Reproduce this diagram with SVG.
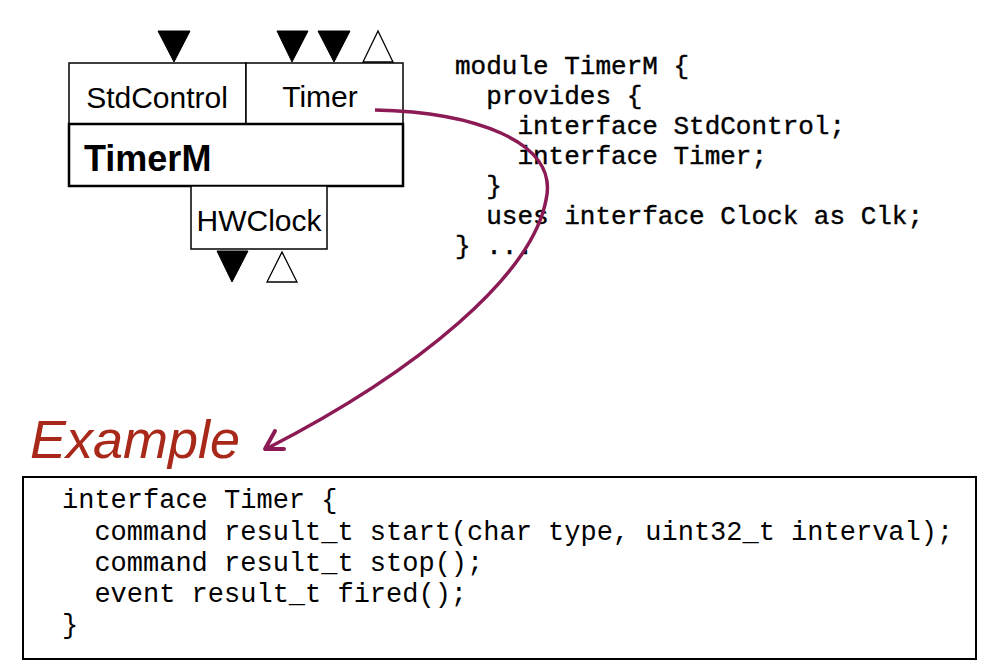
<svg xmlns="http://www.w3.org/2000/svg" width="986" height="666" viewBox="0 0 986 666">
<defs>
<style>
.box{fill:#fff;stroke:#000;stroke-width:1.5}
.thick{fill:none;stroke:#000;stroke-width:2.5}
.lbl{font-family:"Liberation Sans",Arial,sans-serif;font-size:30px;fill:#000}
.big{font-family:"Liberation Sans",Arial,sans-serif;font-size:36px;font-weight:bold;fill:#000}
.code{font-family:"Liberation Mono","Courier New",monospace;font-size:26px;fill:#000;stroke:#000;stroke-width:0.4;white-space:pre}
.code2{font-family:"Liberation Mono","Courier New",monospace;font-size:27px;fill:#000;white-space:pre}
.tf{fill:#000;stroke:#000;stroke-width:1}
.to{fill:#fff;stroke:#000;stroke-width:1.3}
</style>
</defs>
<rect width="986" height="666" fill="#fff"/>
<g id="TimerM">
<rect class="box" x="69" y="63" width="177" height="61"/>
<rect class="box" x="246" y="63" width="157" height="61"/>
<rect class="box" x="69" y="124" width="334" height="62"/>
<rect class="thick" x="69" y="124" width="334" height="62"/>
<rect class="box" x="191" y="186" width="136" height="63"/>
<text class="lbl" x="157" y="108" text-anchor="middle">StdControl</text>
<text class="lbl" x="320" y="107" text-anchor="middle">Timer</text>
<text class="big" x="84" y="171">TimerM</text>
<text class="lbl" x="259" y="231" text-anchor="middle">HWClock</text>
<polygon class="tf" points="158,31 190,31 174,62"/>
<polygon class="tf" points="277,31 308,31 292,62"/>
<polygon class="tf" points="318,31 350,31 334,62"/>
<polygon class="to" points="363,62 393,62 378,31"/>
<polygon class="tf" points="217,251 248,251 232,282"/>
<polygon class="to" points="267,282 297,282 282,252"/>
</g>
<g id="module-code">
<text class="code" x="455" y="74">module TimerM {</text>
<text class="code" x="455" y="104">  provides {</text>
<text class="code" x="455" y="134">    interface StdControl;</text>
<text class="code" x="455" y="164">    interface Timer;</text>
<text class="code" x="455" y="194">  }</text>
<text class="code" x="455" y="224">  uses interface Clock as Clk;</text>
<text class="code" x="455" y="254">} ...</text>
</g>
<g id="connectors">
<path d="M375,110 C470,112 560,140 546,200 C532,275 420,370 266,449" fill="none" stroke="#8B1A55" stroke-width="3.5"/>
<polyline points="275,431 265,449 284,449" fill="none" stroke="#8B1A55" stroke-width="4" stroke-linecap="round" stroke-linejoin="round"/>
</g>
<g id="example-label">
<text x="30" y="458" font-family="'Liberation Sans',Arial,sans-serif" font-style="italic" font-size="54" fill="#A8291A">Example</text>
</g>
<g id="interface-box">
<rect x="23" y="477" width="953" height="182" fill="#fff" stroke="#000" stroke-width="2"/>
<text class="code2" x="62" y="508">interface Timer {</text>
<text class="code2" x="62" y="540">  command result_t start(char type, uint32_t interval);</text>
<text class="code2" x="62" y="571">  command result_t stop();</text>
<text class="code2" x="62" y="602">  event result_t fired();</text>
<text class="code2" x="62" y="633">}</text>
</g>
</svg>
